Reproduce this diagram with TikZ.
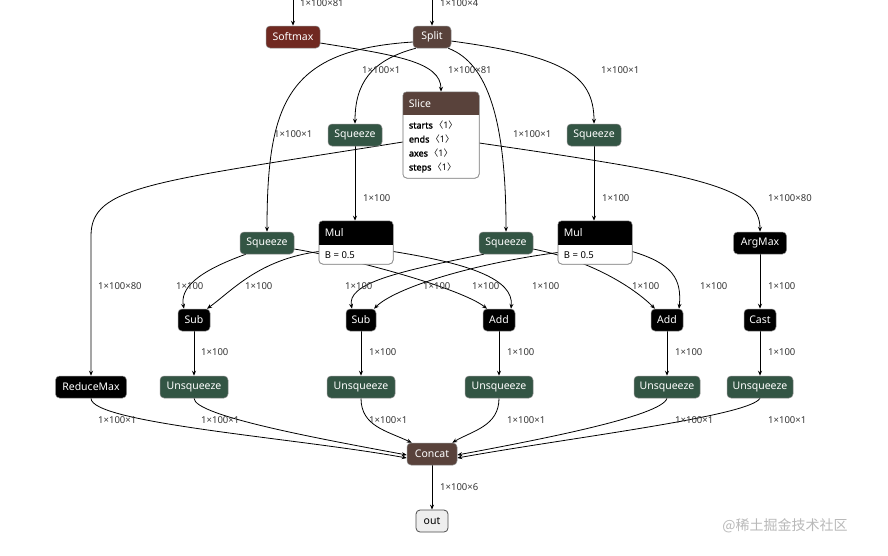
\documentclass[tikz,border=0pt]{standalone}
\usepackage{fontspec}
\setmainfont{Noto Sans}[AutoFakeBold=2]
\newfontfamily\cjkfont{Noto Sans CJK SC}
\usetikzlibrary{arrows.meta}
\pgfdeclarelayer{bg}
\pgfsetlayers{bg,main}
\definecolor{actc}{RGB}{112,41,33}
\definecolor{tensc}{RGB}{89,66,59}
\definecolor{tranc}{RGB}{51,85,68}
\definecolor{labc}{RGB}{55,55,55}
\definecolor{outc}{RGB}{238,238,238}
\definecolor{wmc}{RGB}{185,185,185}
\newcommand{\nodefnt}{\fontsize{10.5}{12}\selectfont}
\newcommand{\labfnt}{\fontsize{9.5}{11}\selectfont}
\newcommand{\attfnt}{\fontsize{9}{14}\selectfont}
\begin{document}
\begin{tikzpicture}[x=1pt,y=-1pt,
  op/.style={rounded corners=4pt, draw=black!45, line width=0.5pt, text=white,
    minimum height=22pt, inner sep=0pt, font=\nodefnt},
  blackop/.style={op, fill=black},
  tranop/.style={op, fill=tranc},
  tensop/.style={op, fill=tensc},
  actop/.style={op, fill=actc},
  outop/.style={op, fill=outc, text=black, draw=black!70, line width=0.8pt},
  bigbox/.style={rounded corners=4pt, draw=black!45, line width=0.5pt, fill=white, inner sep=0pt},
  htext/.style={anchor=west, text=white, font=\nodefnt, inner sep=0pt},
  btext/.style={anchor=west, text=black, font=\labfnt, inner sep=0pt, align=left},
  edge/.style={draw, line width=0.8pt, -{Stealth[length=5pt,width=4pt]}},
  elabel/.style={anchor=west, font=\labfnt, text=labc, inner sep=0pt}
]
\useasboundingbox (0,0) rectangle (888,555);

% input coordinates
\coordinate (in1) at (293,-2);
\coordinate (in2) at (432,-2);

% nodes
\node[actop, minimum width=54pt] (softmax) at (293,37) {Softmax};
\node[tensop, minimum width=38pt] (split) at (432,37) {Split};

\node[bigbox, minimum width=76pt, minimum height=86pt] (slice) at (441,135) {};
\begin{scope}
  \clip[rounded corners=4pt] (slice.north west) rectangle (slice.south east);
  \fill[tensc] (slice.north west) rectangle ([shift={(0,23)}]slice.north east);
\end{scope}
\draw[rounded corners=4pt, draw=black!45, line width=0.5pt] (slice.north west) rectangle (slice.south east);
\node[htext] (slicet) at ([shift={(6,12)}]slice.north west) {Slice};
\node[btext, font=\attfnt] (sliceb) at ([shift={(6,55)}]slice.north west)
  {\textbf{starts}\,{\cjkfont 〈}1{\cjkfont 〉}\\ \textbf{ends}\,{\cjkfont 〈}1{\cjkfont 〉}\\ \textbf{axes}\,{\cjkfont 〈}1{\cjkfont 〉}\\ \textbf{steps}\,{\cjkfont 〈}1{\cjkfont 〉}};

\node[tranop, minimum width=54pt] (sq1) at (355,135) {Squeeze};
\node[tranop, minimum width=54pt] (sq2) at (594,135) {Squeeze};
\node[tranop, minimum width=54pt] (sq3) at (267,243) {Squeeze};
\node[tranop, minimum width=54pt] (sq4) at (506,243) {Squeeze};

\node[bigbox, minimum width=74pt, minimum height=43pt] (mul1) at (356,242.5) {};
\begin{scope}
  \clip[rounded corners=4pt] (mul1.north west) rectangle (mul1.south east);
  \fill[black] (mul1.north west) rectangle ([shift={(0,24)}]mul1.north east);
\end{scope}
\draw[rounded corners=4pt, draw=black!45, line width=0.5pt] (mul1.north west) rectangle (mul1.south east);
\node[htext] (mul1t) at ([shift={(6,12)}]mul1.north west) {Mul};
\node[btext] (mul1b) at ([shift={(6,34)}]mul1.north west) {B = 0.5};

\node[bigbox, minimum width=74pt, minimum height=43pt] (mul2) at (595,242.5) {};
\begin{scope}
  \clip[rounded corners=4pt] (mul2.north west) rectangle (mul2.south east);
  \fill[black] (mul2.north west) rectangle ([shift={(0,24)}]mul2.north east);
\end{scope}
\draw[rounded corners=4pt, draw=black!45, line width=0.5pt] (mul2.north west) rectangle (mul2.south east);
\node[htext] (mul2t) at ([shift={(6,12)}]mul2.north west) {Mul};
\node[btext] (mul2b) at ([shift={(6,34)}]mul2.north west) {B = 0.5};

\node[blackop, minimum width=53pt] (argmax) at (760,243) {ArgMax};

\node[blackop, minimum width=32pt] (sub1) at (194,320) {Sub};
\node[blackop, minimum width=30pt] (sub2) at (361,320) {Sub};
\node[blackop, minimum width=32pt] (add1) at (499,320) {Add};
\node[blackop, minimum width=32pt] (add2) at (667,320) {Add};
\node[blackop, minimum width=32pt] (cast) at (760,320) {Cast};

\node[blackop, minimum width=71pt] (redmax) at (91,387) {ReduceMax};
\node[tranop, minimum width=68pt] (unsq1) at (194,387) {Unsqueeze};
\node[tranop, minimum width=68pt] (unsq2) at (361,387) {Unsqueeze};
\node[tranop, minimum width=68pt] (unsq3) at (499,387) {Unsqueeze};
\node[tranop, minimum width=66pt] (unsq4) at (667,387) {Unsqueeze};
\node[tranop, minimum width=66pt] (unsq5) at (760,387) {Unsqueeze};

\node[tensop, minimum width=50pt] (concat) at (432,454) {Concat};
\node[outop, minimum width=32pt] (out) at (432,521) {out};

% background and edges
\begin{pgfonlayer}{bg}
\fill[white] (0,0) rectangle (888,555);
\draw[edge] (in1) -- (softmax.north);
\draw[edge] (in2) -- (split.north);
\draw[edge] ([shift={(0,6)}]softmax.east) .. controls +(75,12) and +(0,-30) .. (slice.north);
\draw[edge] ([shift={(0,5)}]split.west) .. controls +(-125,8) and +(0,-130) .. (sq3.north);
\draw[edge] ([shift={(3,0)}]split.south west) .. controls +(-45,12) and +(0,-40) .. (sq1.north);
\draw[edge] ([shift={(-3,0)}]split.south east) .. controls +(40,15) and +(0,-110) .. (sq4.north);
\draw[edge] ([shift={(0,4)}]split.east) .. controls +(110,15) and +(0,-50) .. (sq2.north);
\draw[edge] ([shift={(0,7)}]slice.west) .. controls +(-250,40) and +(0,-50) .. ([shift={(0,-140)}]redmax.north) -- (redmax.north);
\draw[edge] ([shift={(0,8)}]slice.east) .. controls +(220,32) and +(0,-45) .. (argmax.north);
\draw[edge] (sq1.south) -- (sq1.south |- mul1.north);
\draw[edge] (sq2.south) -- (sq2.south |- mul2.north);
\draw[edge] ([shift={(6,0)}]sq3.south west) .. controls +(-50,18) and +(-4,-20) .. ([shift={(-10,0)}]sub1.north);
\draw[edge] ([shift={(0,9)}]mul1.west) .. controls +(-60,8) and +(25,-18) .. ([shift={(13,0)}]sub1.north);
\draw[edge] ([shift={(0,6)}]sq3.east) .. controls +(60,10) and +(-25,-20) .. ([shift={(-12,0)}]add1.north);
\draw[edge] ([shift={(0,9)}]mul1.east) .. controls +(75,12) and +(3,-30) .. ([shift={(12,0)}]add1.north);
\draw[edge] ([shift={(5,0)}]sq4.south west) .. controls +(-90,18) and +(-5,-25) .. ([shift={(-9,0)}]sub2.north);
\draw[edge] ([shift={(0,10)}]mul2.west) .. controls +(-90,12) and +(20,-20) .. ([shift={(13,0)}]sub2.north);
\draw[edge] ([shift={(0,6)}]sq4.east) .. controls +(60,12) and +(-20,-20) .. ([shift={(-12,0)}]add2.north);
\draw[edge] ([shift={(0,9)}]mul2.east) .. controls +(40,12) and +(3,-30) .. ([shift={(12,0)}]add2.north);
\draw[edge] (argmax.south) -- (cast.north);
\draw[edge] (sub1.south) -- (unsq1.north);
\draw[edge] (sub2.south) -- (unsq2.north);
\draw[edge] (add1.south) -- (unsq3.north);
\draw[edge] (add2.south) -- (unsq4.north);
\draw[edge] (cast.south) -- (unsq5.north);
\draw[edge] (redmax.south) .. controls +(0,25) and +(-110,-20) .. ([shift={(0,4)}]concat.west);
\draw[edge] (unsq1.south) .. controls +(0,18) and +(-80,-15) .. ([shift={(0,1)}]concat.west);
\draw[edge] (unsq2.south) .. controls +(0,28) and +(-25,-12) .. ([shift={(5,0)}]concat.north west);
\draw[edge] (unsq3.south) .. controls +(0,28) and +(20,-12) .. ([shift={(-5,0)}]concat.north east);
\draw[edge] (unsq4.south) .. controls +(-5,18) and +(80,-15) .. ([shift={(0,1)}]concat.east);
\draw[edge] (unsq5.south) .. controls +(-10,18) and +(110,-20) .. ([shift={(0,4)}]concat.east);
\draw[edge] (concat.south) -- (out.north);
\end{pgfonlayer}

% edge labels
\node[elabel] (l1) at (300,3) {1×100×81};
\node[elabel] (l2) at (440,3) {1×100×4};
\node[elabel] (l3) at (448,70) {1×100×81};
\node[elabel] (l4) at (274,134) {1×100×1};
\node[elabel] (l5) at (362,70) {1×100×1};
\node[elabel] (l6) at (513,134) {1×100×1};
\node[elabel] (l7) at (601,70) {1×100×1};
\node[elabel] (l8) at (98,286) {1×100×80};
\node[elabel] (l9) at (768,198) {1×100×80};
\node[elabel] (l10) at (363,198) {1×100};
\node[elabel] (l11) at (602,198) {1×100};
\node[elabel] (l12) at (176,286) {1×100};
\node[elabel] (l13) at (245,286) {1×100};
\node[elabel] (l14) at (345,286) {1×100};
\node[elabel] (l15) at (423,286) {1×100};
\node[elabel] (l16) at (472,286) {1×100};
\node[elabel] (l17) at (532,286) {1×100};
\node[elabel] (l18) at (632,286) {1×100};
\node[elabel] (l19) at (700,286) {1×100};
\node[elabel] (l20) at (768,286) {1×100};
\node[elabel] (l21) at (201,352) {1×100};
\node[elabel] (l22) at (369,352) {1×100};
\node[elabel] (l23) at (507,352) {1×100};
\node[elabel] (l24) at (675,352) {1×100};
\node[elabel] (l25) at (768,352) {1×100};
\node[elabel] (l26) at (98,420) {1×100×1};
\node[elabel] (l27) at (201,420) {1×100×1};
\node[elabel] (l28) at (369,420) {1×100×1};
\node[elabel] (l29) at (507,420) {1×100×1};
\node[elabel] (l30) at (675,420) {1×100×1};
\node[elabel] (l31) at (768,420) {1×100×1};
\node[elabel] (l32) at (440,487) {1×100×6};

% watermark
\node[font=\cjkfont\fontsize{14}{16}\selectfont, text=wmc, inner sep=0pt] (wm) at (785,526) {@稀土掘金技术社区};
\end{tikzpicture}
\end{document}
